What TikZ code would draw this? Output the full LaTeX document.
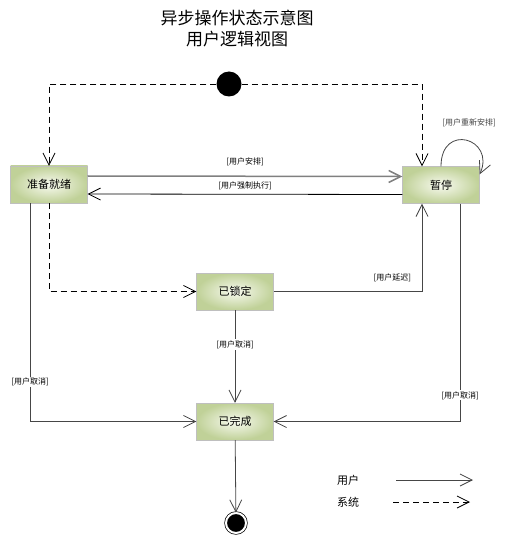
\documentclass[tikz,border=0pt]{standalone}
\usepackage{fontspec}
\setmainfont{Noto Sans CJK SC}
\usetikzlibrary{arrows.meta}

\definecolor{boxedge}{RGB}{192,209,152}
\definecolor{boxmid}{RGB}{248,250,240}
\definecolor{lineclr}{RGB}{70,70,70}

\begin{document}
\begin{tikzpicture}[x=1pt,y=-1pt,>={Straight Barb[length=12pt,width=12pt]}]
	\useasboundingbox (0,0) rectangle (510,537);
	\tikzstyle{state}=[draw=gray!50,inner color=boxmid,outer color=boxedge,minimum width=77pt,minimum height=37pt,inner sep=0pt,font=\fontsize{11}{13}\selectfont]
	\tikzstyle{init}=[circle,fill=black,minimum size=25pt,inner sep=0pt]
	\tikzstyle{final}=[circle,fill=black,draw=black,line width=0.7pt,double=white,double distance=2pt,minimum size=20pt,inner sep=0pt]
	\tikzstyle{lbl}=[inner sep=1pt,font=\fontsize{8}{9}\selectfont]
	\tikzstyle{legend}=[inner sep=1pt,font=\fontsize{11}{13}\selectfont]
	\tikzstyle{user}=[draw=lineclr,line width=0.8pt]
	\tikzstyle{sys}=[draw=black,line width=0.8pt,dash pattern=on 6pt off 4pt]

	\path (237,29) node[align=center,font=\fontsize{17}{21}\selectfont] (title) {异步操作状态示意图\\用户逻辑视图};

	\path (229,84)    node[init]  (start)  {};
	\path (49,184.5)  node[state] (ready)  {准备就绪};
	\path (441,185)   node[state] (pause)  {暂停};
	\path (235,291.5) node[state] (locked) {已锁定};
	\path (235,421.5) node[state] (done)   {已完成};
	\path (236,523)   node[final] (end)    {};

	% system transitions
	\draw[sys,->] (start) -| (ready);
	\draw[sys,->] (start) -| ([xshift=-19pt]pause.north);
	\draw[sys,->] (ready) |- (locked);

	% user transitions
	\draw[user,->,draw=gray,line width=1.5pt] ([yshift=8.5pt]ready.east) -- ([yshift=8.5pt]pause.west) node[lbl,midway,above=9pt] {[用户安排]};
	\draw[user,->,draw=black] ([yshift=-9.5pt]pause.west) -- ([yshift=-9.5pt]ready.east) node[lbl,midway,above=2.5pt] {[用户强制执行]};
	\draw[user,->] (pause.north) .. controls +(0,-44) and +(16,-36) .. ([yshift=-8pt]pause.north east);
	\path (469,123) node[lbl,text=darkgray] (looplbl) {[用户重新安排]};
	\draw[user,->] ([xshift=-19pt]ready.south) |- (done) node[lbl,pos=0.41,fill=white] {[用户取消]};
	\draw[user,->] (locked) -| ([xshift=-19pt]pause.south) node[lbl,pos=0.4,above=8pt] {[用户延迟]};
	\draw[user,->] (locked) -- (done) node[lbl,pos=0.37,fill=white] {[用户取消]};
	\draw[user,->] ([xshift=19pt]pause.south) |- (done) node[lbl,pos=0.44,fill=white] {[用户取消]};
	\draw[user,->] (done) -- (end);

	% legend
	\path (348,480) node[legend] (lu) {用户};
	\path (348,502) node[legend] (ls) {系统};
	\coordinate (lu1) at (396,480);
	\coordinate (lu2) at (473,480);
	\coordinate (ls1) at (393,502);
	\coordinate (ls2) at (470,502);
	\draw[user,->] (lu1) -- (lu2);
	\draw[sys,->] (ls1) -- (ls2);
\end{tikzpicture}
\end{document}
